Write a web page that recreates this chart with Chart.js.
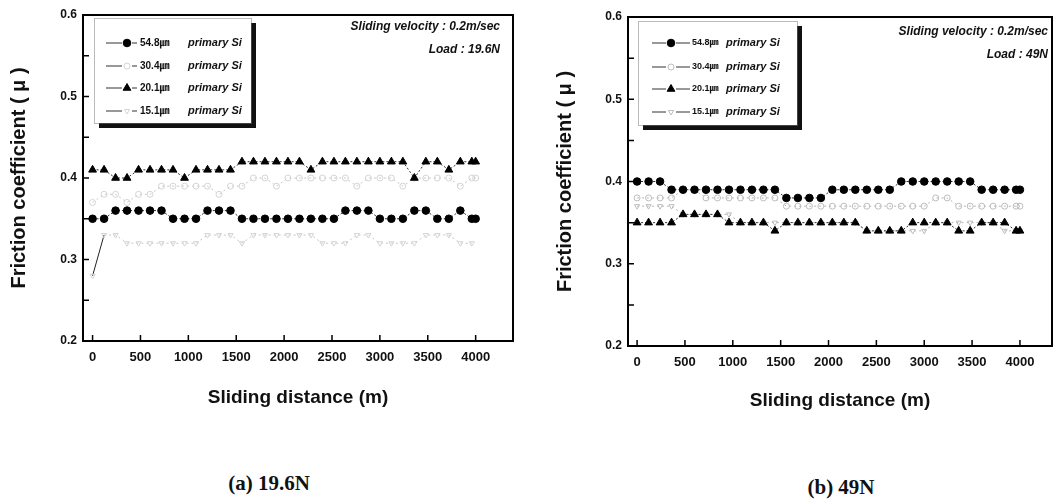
<!DOCTYPE html>
<html>
<head>
<meta charset="utf-8">
<script src="https://cdn.jsdelivr.net/npm/chart.js@4.4.1/dist/chart.umd.min.js"></script>
<style>
	html, body { margin: 0; padding: 0; background: #fff; }
	body { width: 1060px; height: 499px; position: relative; overflow: hidden; }
	.wrap { position: absolute; top: 0; width: 530px; height: 420px; }
	canvas { display: block; }
	.cap { position: absolute; font-family: "Liberation Serif", "DejaVu Serif", serif; font-weight: bold; font-size: 21px; line-height: 24px; transform: translateX(-50%); white-space: nowrap; color: #111; }
</style>
</head>
<body>
<div class="wrap" style="left:0"><canvas id="chart-a" width="530" height="420"></canvas></div>
<div class="wrap" style="left:530px"><canvas id="chart-b" width="530" height="420"></canvas></div>
<div class="cap" style="left:269px; top:471px">(a) 19.6N</div>
<div class="cap" style="left:841px; top:475px">(b) 49N</div>

<script>
// sliding distance (m) of each measurement
var distance = [0, 120, 240, 360, 480, 600, 720, 840, 960, 1080, 1200, 1320, 1440, 1560, 1680, 1800, 1920,
	2040, 2160, 2280, 2400, 2520, 2640, 2760, 2880, 3000, 3120, 3240, 3360, 3480, 3600, 3720, 3840, 3960, 4000];

var seriesLabels = ['54.8㎛', '30.4㎛', '20.1㎛', '15.1㎛'];
var seriesNote = 'primary Si';

var xTicks = [0, 500, 1000, 1500, 2000, 2500, 3000, 3500, 4000];
var yTicks = [0.2, 0.3, 0.4, 0.5, 0.6];
var yMinorTicks = [0.25, 0.3, 0.35, 0.4, 0.45, 0.5, 0.55];

// (a) load 19.6N
var a548 = [0.35, 0.35, 0.36, 0.36, 0.36, 0.36, 0.36, 0.35, 0.35, 0.35, 0.36, 0.36, 0.36, 0.35, 0.35, 0.35, 0.35,
	0.35, 0.35, 0.35, 0.35, 0.35, 0.36, 0.36, 0.36, 0.35, 0.35, 0.35, 0.36, 0.36, 0.35, 0.35, 0.36, 0.35, 0.35];
var a304 = [0.37, 0.38, 0.38, 0.37, 0.38, 0.38, 0.39, 0.39, 0.39, 0.39, 0.39, 0.38, 0.39, 0.39, 0.40, 0.40, 0.39,
	0.40, 0.40, 0.40, 0.40, 0.40, 0.40, 0.39, 0.40, 0.40, 0.40, 0.39, 0.40, 0.40, 0.40, 0.40, 0.39, 0.40, 0.40];
var a201 = [0.41, 0.41, 0.40, 0.40, 0.41, 0.41, 0.41, 0.41, 0.40, 0.41, 0.41, 0.41, 0.41, 0.42, 0.42, 0.42, 0.42,
	0.42, 0.42, 0.41, 0.42, 0.42, 0.42, 0.42, 0.42, 0.42, 0.42, 0.42, 0.40, 0.42, 0.42, 0.41, 0.42, 0.42, 0.42];
var a151 = [0.28, 0.33, 0.33, 0.32, 0.32, 0.32, 0.32, 0.32, 0.32, 0.32, 0.33, 0.33, 0.33, 0.32, 0.33, 0.33, 0.33,
	0.33, 0.33, 0.33, 0.32, 0.32, 0.32, 0.33, 0.33, 0.32, 0.32, 0.32, 0.32, 0.33, 0.33, 0.33, 0.32, 0.32, null];

// (b) load 49N
var b548 = [0.40, 0.40, 0.40, 0.39, 0.39, 0.39, 0.39, 0.39, 0.39, 0.39, 0.39, 0.39, 0.39, 0.38, 0.38, 0.38, 0.38,
	0.39, 0.39, 0.39, 0.39, 0.39, 0.39, 0.40, 0.40, 0.40, 0.40, 0.40, 0.40, 0.40, 0.39, 0.39, 0.39, 0.39, 0.39];
var b304 = [0.38, 0.38, 0.38, 0.38, 0.39, 0.39, 0.38, 0.38, 0.38, 0.38, 0.38, 0.38, 0.38, 0.37, 0.37, 0.37, 0.37,
	0.37, 0.37, 0.37, 0.37, 0.37, 0.37, 0.37, 0.37, 0.37, 0.38, 0.38, 0.37, 0.37, 0.37, 0.37, 0.37, 0.37, 0.37];
var b201 = [0.35, 0.35, 0.35, 0.35, 0.36, 0.36, 0.36, 0.36, 0.35, 0.35, 0.35, 0.35, 0.34, 0.35, 0.35, 0.35, 0.35,
	0.35, 0.35, 0.35, 0.34, 0.34, 0.34, 0.34, 0.35, 0.35, 0.35, 0.35, 0.34, 0.34, 0.35, 0.35, 0.35, 0.34, 0.34];
var b151 = [0.37, 0.37, 0.37, 0.37, 0.36, 0.36, 0.36, 0.36, 0.36, 0.35, 0.35, 0.35, 0.35, 0.35, 0.35, 0.35, 0.35,
	0.35, 0.35, 0.35, 0.34, 0.34, 0.34, 0.34, 0.34, 0.34, 0.35, 0.35, 0.35, 0.35, 0.35, 0.35, 0.34, 0.34, 0.34];

var sansFont = '"Liberation Sans", Arial, "Noto Sans CJK KR", sans-serif';

function points(values) {
	return values.map(function (v, i) { return {x: distance[i], y: v}; });
}

function makeDatasets(s548, s304, s201, s151, faint, solidStart) {
	return [
		{
			label: seriesLabels[0] + ' ' + seriesNote, data: points(s548), order: 0,
			borderColor: '#333', borderWidth: 1, borderDash: [2, 2],
			pointStyle: 'circle', pointRadius: 3.8, pointBackgroundColor: '#000', pointBorderColor: '#000', pointBorderWidth: 1
		},
		{
			label: seriesLabels[1] + ' ' + seriesNote, data: points(s304), order: 2,
			borderColor: faint.line, borderWidth: 1, borderDash: [2, 3],
			pointStyle: 'circle', pointRadius: 3, pointBackgroundColor: 'rgba(0,0,0,0)', pointBorderColor: faint.mark, pointBorderWidth: 1
		},
		{
			label: seriesLabels[2] + ' ' + seriesNote, data: points(s201), order: 1,
			borderColor: '#333', borderWidth: 1, borderDash: [2, 2],
			pointStyle: 'triangle', pointRadius: 4.5, pointBackgroundColor: '#000', pointBorderColor: '#000', pointBorderWidth: 1
		},
		{
			label: seriesLabels[3] + ' ' + seriesNote, data: points(s151), order: 3,
			borderColor: faint.line, borderWidth: 1, borderDash: [2, 3],
			pointStyle: 'triangle', rotation: 180, pointRadius: 3, pointBackgroundColor: 'rgba(0,0,0,0)', pointBorderColor: faint.mark, pointBorderWidth: 1,
			segment: solidStart ? {
				borderColor: function (ctx) { return ctx.p0DataIndex === 0 ? '#222' : undefined; },
				borderDash: function (ctx) { return ctx.p0DataIndex === 0 ? [] : undefined; }
			} : {}
		}
	];
}

// frame, inside ticks, notes and the boxed legend
var paperDeco = {
	id: 'paperDeco',
	afterDatasetsDraw: function (chart, args, o) {
		var ctx = chart.ctx, a = chart.chartArea, xs = chart.scales.x, ys = chart.scales.y;
		ctx.save();
		ctx.strokeStyle = '#000';
		ctx.lineWidth = 2;
		ctx.strokeRect(a.left, a.top, a.right - a.left, a.bottom - a.top);

		ctx.lineWidth = 1.5;
		ctx.beginPath();
		xTicks.forEach(function (v) {
			var px = xs.getPixelForValue(v);
			ctx.moveTo(px, a.bottom);
			ctx.lineTo(px, a.bottom - 6);
		});
		yMinorTicks.forEach(function (v) {
			var py = ys.getPixelForValue(v);
			ctx.moveTo(a.left, py);
			ctx.lineTo(a.left + 6, py);
		});
		ctx.stroke();

		ctx.fillStyle = '#111';
		ctx.textAlign = 'right';
		ctx.textBaseline = 'middle';
		ctx.font = 'italic bold 12px ' + sansFont;
		o.notes.forEach(function (t, i) {
			ctx.fillText(t, a.right - o.noteInset, o.noteY[i]);
		});

		var L = o.legend;
		ctx.fillStyle = '#111';
		ctx.fillRect(L.x + 5, L.y + 5, L.w, L.h);
		ctx.fillStyle = '#fff';
		ctx.fillRect(L.x, L.y, L.w, L.h);
		ctx.strokeStyle = '#777';
		ctx.lineWidth = 1;
		ctx.setLineDash([1, 1]);
		ctx.strokeRect(L.x + 0.5, L.y + 0.5, L.w, L.h);
		ctx.setLineDash([]);

		chart.data.datasets.forEach(function (ds, i) {
			var y = L.y + L.rows[i];
			ctx.strokeStyle = '#333';
			ctx.lineWidth = 1;
			ctx.beginPath();
			ctx.moveTo(L.x + L.l0, y);
			ctx.lineTo(L.x + L.l1, y);
			ctx.stroke();
			ctx.fillStyle = '#fff';
			ctx.fillRect(L.x + L.m - 5, y - 5, 10, 10);
			ctx.fillStyle = ds.pointBackgroundColor;
			ctx.strokeStyle = ds.pointBorderColor;
			ctx.lineWidth = ds.pointBorderWidth;
			Chart.helpers.drawPoint(ctx, {
				pointStyle: ds.pointStyle, radius: ds.pointRadius, rotation: ds.rotation || 0, borderWidth: ds.pointBorderWidth
			}, L.x + L.m, y);

			ctx.fillStyle = '#111';
			ctx.textAlign = 'left';
			ctx.font = 'bold ' + L.size1 + 'px ' + sansFont;
			ctx.fillText(seriesLabels[i], L.x + L.t1, y);
			ctx.font = 'italic bold 11px ' + sansFont;
			ctx.fillText(seriesNote, L.x + L.t2, y);
		});
		ctx.restore();
	}
};

function createFrictionChart(id, sets, look) {
	return new Chart(id, {
		type: 'line',
		data: {datasets: sets},
		plugins: [paperDeco],
		options: {
			responsive: false,
			animation: false,
			layout: {padding: look.padding},
			scales: {
				x: {
					type: 'linear', min: look.xMin, max: look.xMax,
					afterBuildTicks: function (s) { s.ticks = xTicks.map(function (v) { return {value: v}; }); },
					afterFit: function (s) { s.height = look.xHeight; },
					grid: {display: false, drawTicks: false},
					border: {display: false},
					ticks: {padding: 9, autoSkip: false, maxRotation: 0, color: '#111', font: {family: sansFont, size: 13, weight: 'bold'},
						callback: function (v) { return String(v); }},
					title: {display: true, text: 'Sliding distance (m)', color: '#111', font: {family: sansFont, size: 19, weight: 'bold'}, padding: {top: 0, bottom: look.xTitlePad}}
				},
				y: {
					min: 0.2, max: 0.6,
					afterBuildTicks: function (s) { s.ticks = yTicks.map(function (v) { return {value: v}; }); },
					afterFit: function (s) { s.width = look.yWidth; },
					grid: {display: false, drawTicks: false},
					border: {display: false},
					ticks: {padding: 6, color: '#111', font: {family: sansFont, size: 12, weight: 'bold'}, callback: function (v) { return v.toFixed(1); }},
					title: {display: true, text: 'Friction coefficient ( μ )', color: '#111', font: {family: sansFont, size: 20, weight: 'bold'}, padding: {top: look.yTitlePad, bottom: 0}}
				}
			},
			plugins: {
				legend: {display: false},
				tooltip: {enabled: false},
				paperDeco: {notes: look.notes, noteInset: look.noteInset, noteY: look.noteY, legend: look.legend}
			}
		}
	});
}

createFrictionChart('chart-a', makeDatasets(a548, a304, a201, a151, {line: '#c6c6c6', mark: '#d4d4d4'}, true), {
	padding: {top: 15, right: 17, left: 0, bottom: 0},
	xMin: -100, xMax: 4390, xHeight: 79, yWidth: 83, xTitlePad: 11, yTitlePad: 7,
	notes: ['Sliding velocity : 0.2m/sec', 'Load : 19.6N'], noteInset: 13, noteY: [27, 50],
	legend: {x: 94, y: 18, w: 157, h: 105, rows: [25, 48, 70, 93], l0: 12, l1: 43, m: 33, t1: 46, t2: 94, size1: 10}
});

createFrictionChart('chart-b', makeDatasets(b548, b304, b201, b151, {line: '#b4b4b4', mark: '#bcbcbc'}, false), {
	padding: {top: 17, right: 8, left: 0, bottom: 0},
	xMin: -95, xMax: 4335, xHeight: 74, yWidth: 98, xTitlePad: 8, yTitlePad: 23,
	notes: ['Sliding velocity : 0.2m/sec', 'Load : 49N'], noteInset: 4, noteY: [32, 55],
	legend: {x: 108, y: 21, w: 159, h: 104, rows: [22, 46, 68, 91], l0: 14, l1: 52, m: 33, t1: 54, t2: 88, size1: 9}
});
</script>
</body>
</html>
